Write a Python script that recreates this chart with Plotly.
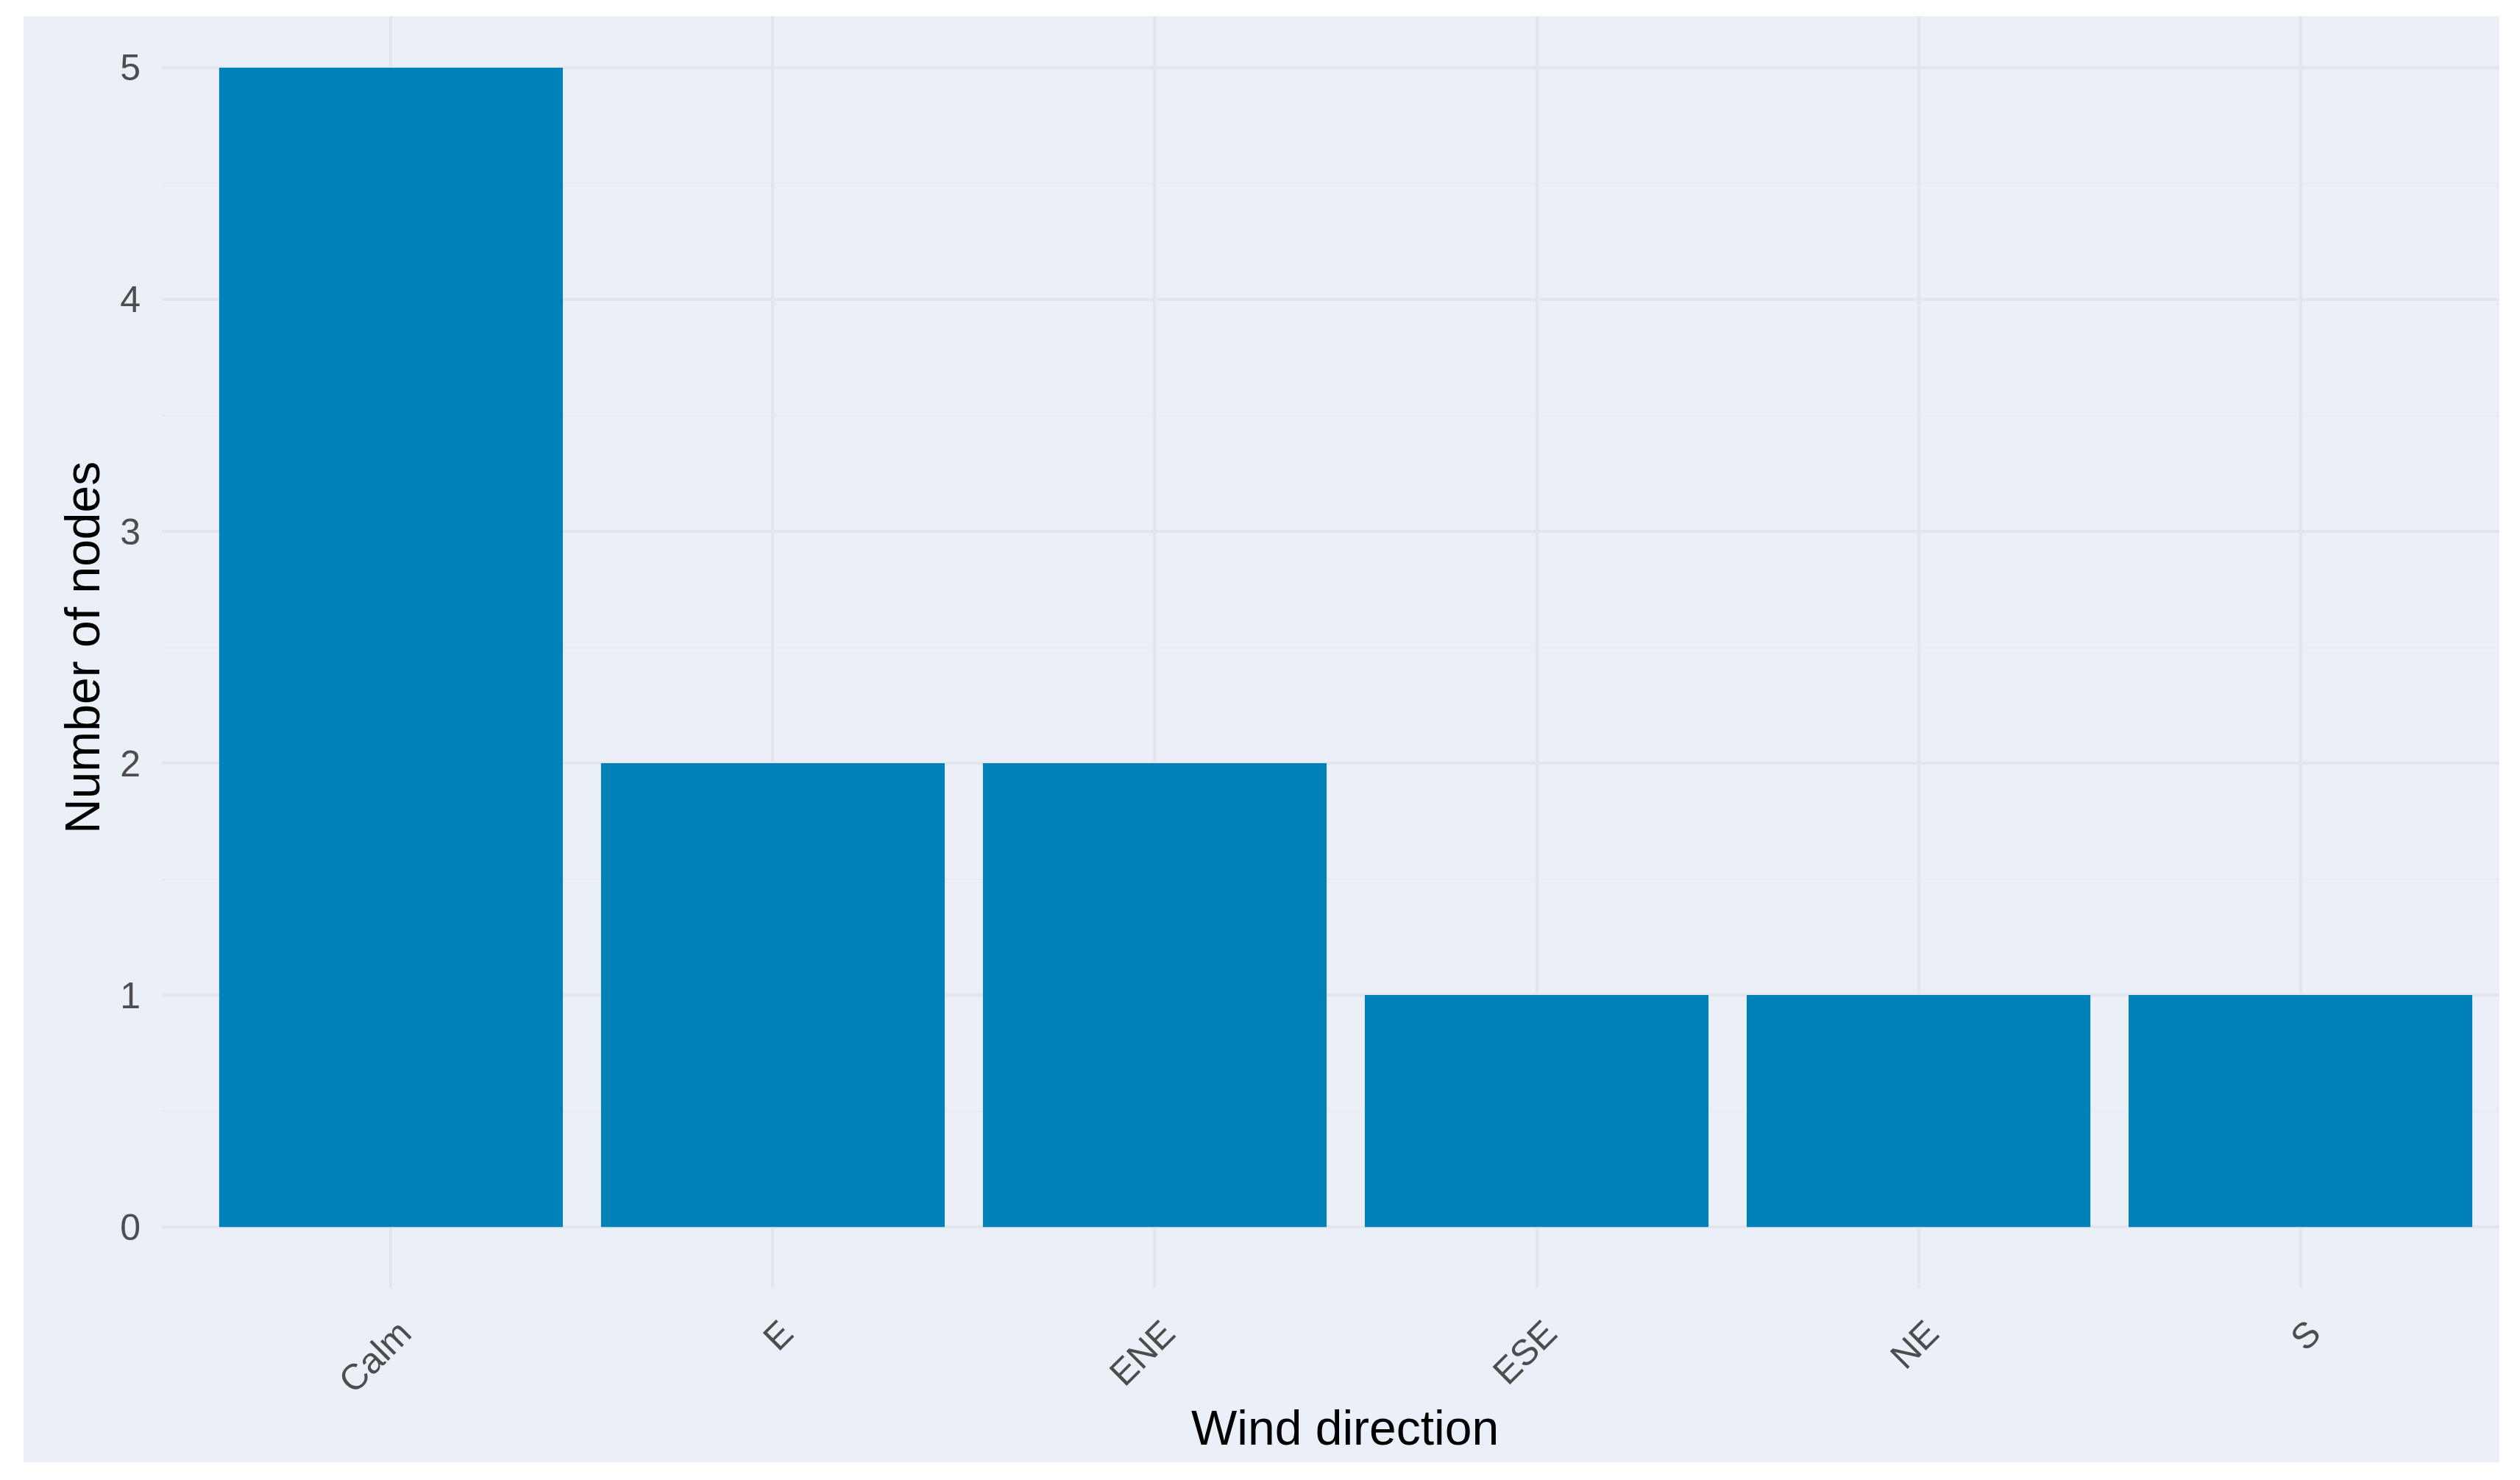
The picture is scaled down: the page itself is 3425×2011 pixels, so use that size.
import plotly.graph_objects as go

directions = ['Calm', 'E', 'ENE', 'ESE', 'NE', 'S']
node_counts = [5, 2, 2, 1, 1, 1]
y_ticks = [0, 1, 2, 3, 4, 5]

# the page body has an 8px margin, so the figure starts at (8, 8)
OFF = 8
W, H = 3425 - 2 * OFF, 2011 - 2 * OFF
L, T = 220 - OFF, 22 - OFF
R = W - (3397 - OFF)
B = H - (1750 - OFF)
PW, PH = W - L - R, H - T - B
BG = '#EBF0F8'
GRID = '#E2E5EA'
FONT = 'Liberation Sans, Arial, sans-serif'


def px_x(x):
    # screen pixel -> paper fraction
    return (x - OFF - L) / PW


def px_y(y):
    return (H - B - (y - OFF)) / PH


fig = go.Figure(go.Bar(
    x=directions,
    y=node_counts,
    width=0.9,
    marker=dict(color='#0082B8', line=dict(width=0)),
))

# light panel behind the whole chart, white strip round it
fig.add_shape(type='rect', xref='paper', yref='paper',
              x0=px_x(32), x1=1, y0=px_y(1987), y1=1,
              fillcolor=BG, line=dict(width=0), layer='below')

fig.add_annotation(text='Wind direction', xref='paper', yref='paper',
                   x=px_x(1828), y=px_y(1940), xanchor='center', yanchor='middle',
                   showarrow=False, font=dict(size=66, color='black', family=FONT))
fig.add_annotation(text='Number of nodes', xref='paper', yref='paper',
                   x=px_x(112), y=px_y(880), xanchor='center', yanchor='middle',
                   textangle=-90, showarrow=False,
                   font=dict(size=66, color='black', family=FONT))

fig.update_layout(
    width=W, height=H,
    paper_bgcolor='white',
    plot_bgcolor=BG,
    margin=dict(l=L, r=R, t=T, b=B),
    showlegend=False,
    bargap=0.1,
    font=dict(family=FONT, color='#4D4D4D'),
    xaxis=dict(
        range=[-0.6, 5.521],
        automargin=False,
        tickangle=-45,
        tickfont=dict(size=49, color='#4D4D4D'),
        ticklabelshift=13,
        showgrid=True, gridcolor=GRID, gridwidth=4,
        zeroline=False, showline=False,
        ticks='outside', ticklen=12, tickcolor='rgba(0,0,0,0)',
    ),
    yaxis=dict(
        range=[-0.263, 5.222],
        automargin=False,
        tickvals=y_ticks,
        tickfont=dict(size=50, color='#4D4D4D'),
        showgrid=True, gridcolor=GRID, gridwidth=4,
        minor=dict(dtick=0.5, tick0=0, showgrid=True, gridcolor='#E7EAF0', gridwidth=2),
        zeroline=False, showline=False,
        ticks='outside', ticklen=18, tickcolor='rgba(0,0,0,0)',
    ),
)

fig.write_html('out.html')
